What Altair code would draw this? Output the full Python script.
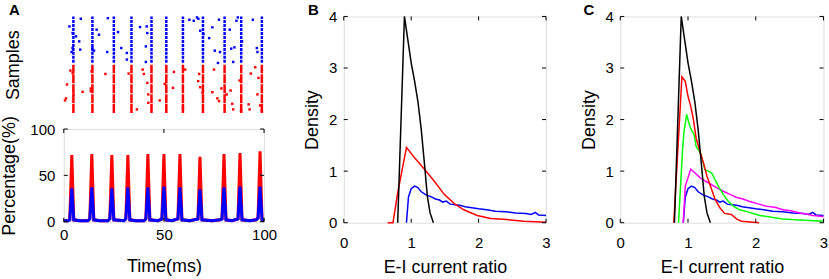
import altair as alt
import pandas as pd

FONT = "Liberation Sans"
RED = "#ff0000"
BLUE = "#0000ff"
GREEN = "#00ff00"
MAGENTA = "#ff00ff"
BLACK = "#000000"

# ---------------- Panel A: raster ----------------
col_times = [4.8, 14.3, 25.0, 33.8, 43.8, 51.2, 59.5, 69.5, 80.3, 88.6, 98.9]
blue_col_lo, blue_col_hi = 52, 100
red_col_lo, red_col_hi = 0, 50

blue_dot_t = [8.5, 2.8, 4.4, 6.1, 7.7, 4.4, 8.2, 3.9, 16.4, 17.6, 14.3, 15.1, 22.0, 27.1, 21.7,
              28.7, 31.5, 31.5, 38.1, 41.4, 41.7, 41.0, 41.0, 62.7, 64.9, 66.5, 67.2, 68.1, 69.8,
              72.6, 74.2, 77.5, 82.9, 86.9, 86.2, 75.4, 78.0, 83.6, 85.2, 89.0, 77.0, 84.6, 94.4,
              96.4, 96.7]
blue_dot_n = [97.6, 89.7, 82.8, 79.4, 74.2, 67.3, 65.7, 63.2, 86.3, 81.1, 67.3, 64.6, 98.2, 83.8,
              63.2, 67.3, 62.2, 55.4, 89.0, 89.7, 82.8, 69.0, 52.9, 96.6, 95.5, 99.0, 97.6, 85.2,
              81.8, 77.6, 88.7, 96.6, 86.3, 99.0, 95.5, 64.6, 63.2, 66.7, 68.0, 74.2, 51.9, 52.9,
              96.6, 67.3, 63.2]
red_dot_t = [3.3, 4.4, 1.6, 4.9, 9.4, 1.1, 0.6, 13.9, 13.5, 13.5, 20.8, 32.4, 39.4, 40.0, 41.7,
             42.2, 42.2, 36.5, 47.9, 50.4, 55.0, 54.5, 60.6, 59.5, 67.6, 67.1, 68.1, 69.3, 74.2,
             75.0, 76.7, 77.5, 78.7, 81.3, 83.3, 84.1, 84.6, 92.3, 92.8, 93.4, 95.6, 97.2, 96.7,
             98.0, 98.9, 88.5, 87.8]
red_dot_n = [44.0, 41.6, 29.6, 19.3, 22.0, 15.2, 13.1, 43.3, 22.7, 25.4, 40.5, 40.9, 45.0, 40.5,
             31.2, 19.3, 10.6, 3.8, 13.1, 30.2, 42.6, 26.1, 45.0, 5.5, 40.5, 33.0, 26.8, 20.9,
             21.6, 45.0, 15.2, 12.4, 25.5, 19.3, 23.4, 9.6, 3.8, 9.0, 3.8, 40.9, 47.4, 36.4,
             19.3, 7.9, 2.8, 2.8, 33.7]

# ---------------- Panel A: population percentage ----------------
ts_time = [0, 2, 3, 4, 5, 8, 12, 13, 14, 15, 18, 22, 23, 24, 25, 30, 31, 32, 33, 36, 40, 41, 42,
           43, 47, 49, 50, 51, 54, 57, 58, 59, 63, 67, 68, 69, 74, 78, 79, 80, 81, 84, 87, 88,
           89, 93, 96, 97, 98, 99, 100]
ts_red = [1, 1, 2, 72, 2, 1, 1, 3, 73, 2, 1, 1, 3, 72, 2, 1, 3, 72, 2, 1, 1, 3, 73, 2, 1, 3, 73,
          2, 1, 3, 73, 2, 1, 3, 70, 2, 1, 2, 3, 73, 2, 1, 3, 74, 2, 1, 2, 4, 76, 2, 1]
ts_blue = [1, 1, 2, 36, 2, 1, 1, 3, 37, 2, 1, 1, 3, 36, 2, 1, 3, 37, 2, 1, 1, 3, 37, 2, 1, 3, 38,
           2, 1, 3, 37, 2, 1, 3, 35, 2, 1, 2, 3, 37, 2, 1, 3, 38, 2, 1, 2, 4, 38, 2, 1]

# ---------------- Panels B / C: densities ----------------
black_x = [0.80, 0.90, 0.95, 1.00, 1.05, 1.10, 1.15, 1.20, 1.24, 1.28, 1.33]
black_y = [0.00, 4.00, 3.55, 3.10, 2.75, 2.35, 1.80, 1.10, 0.51, 0.19, 0.00]

blue_x = [0.93, 0.96, 1.00, 1.05, 1.10, 1.15, 1.22, 1.30, 1.36, 1.42, 1.47, 1.52, 1.58, 1.65,
          1.72, 1.80, 1.90, 2.00, 2.12, 2.25, 2.40, 2.55, 2.70, 2.78, 2.84, 2.89, 3.00]
blue_y = [0.00, 0.50, 0.66, 0.71, 0.68, 0.60, 0.54, 0.50, 0.46, 0.44, 0.40, 0.42, 0.36, 0.35,
          0.34, 0.31, 0.29, 0.27, 0.25, 0.22, 0.21, 0.19, 0.18, 0.16, 0.20, 0.15, 0.14]

redB_x = [0.65, 0.73, 0.80, 0.93, 1.05, 1.20, 1.34, 1.49, 1.64, 1.78, 1.98, 2.18, 2.42, 2.67, 3.00]
redB_y = [0.00, 0.00, 0.58, 1.46, 1.26, 1.03, 0.81, 0.55, 0.37, 0.25, 0.14, 0.08, 0.06, 0.03, 0.01]

redC_x = [0.79, 0.91, 0.96, 1.00, 1.04, 1.08, 1.12, 1.17, 1.23, 1.28, 1.35, 1.40, 1.47, 1.54,
          1.64, 1.72, 1.79, 2.05]
redC_y = [0.00, 2.83, 2.74, 2.45, 2.26, 2.00, 1.64, 1.41, 1.15, 0.90, 0.64, 0.45, 0.29, 0.18,
          0.16, 0.07, 0.03, 0.00]

green_x = [0.86, 0.92, 0.94, 0.98, 1.02, 1.05, 1.09, 1.12, 1.17, 1.20, 1.25, 1.30, 1.35, 1.40,
           1.45, 1.52, 1.59, 1.67, 1.76, 1.86, 1.96, 2.06, 2.16, 2.40, 2.65, 3.00]
green_y = [0.00, 1.42, 1.75, 2.10, 1.90, 1.80, 1.71, 1.48, 1.38, 1.28, 1.03, 1.00, 0.96, 0.83,
           0.70, 0.55, 0.42, 0.32, 0.25, 0.22, 0.18, 0.14, 0.12, 0.07, 0.05, 0.03]

mag_x = [0.93, 0.96, 1.04, 1.10, 1.18, 1.25, 1.32, 1.42, 1.52, 1.62, 1.72, 1.81, 1.91, 2.02,
         2.16, 2.28, 2.40, 2.52, 2.65, 2.75, 2.84, 3.00]
mag_y = [0.00, 0.71, 1.04, 0.97, 0.87, 0.81, 0.76, 0.68, 0.61, 0.55, 0.49, 0.46, 0.41, 0.37,
         0.32, 0.30, 0.25, 0.23, 0.19, 0.17, 0.14, 0.12]

ts_ticks = [0, 50, 100]
dens_xticks = [0, 1, 2, 3]
dens_yticks = [0, 1, 2, 3, 4]

# ---------------- sizes ----------------
W_A, H_R, H_T = 201, 97, 93
W_B, W_C, H_D = 203, 204, 207

LBL = dict(labelFont=FONT, labelFontSize=15, labelColor=BLACK, titleFont=FONT, titleFontSize=18,
           titleFontWeight="normal", titleColor=BLACK, grid=False, domain=False, ticks=False,
           tickSize=0, labelFlush=False, titleBaseline="alphabetic")


def letter(ch, dx):
    return alt.Chart(pd.DataFrame({"label": [ch]})).mark_text(
        align="left", baseline="alphabetic", fontSize=15, fontWeight="bold", font=FONT,
        color=BLACK).encode(text="label:N", x=alt.value(dx), y=alt.value(-1))


def inward_ticks(xvals, yvals, xs, ys, xax, yax, w, h, L=4):
    dx = pd.DataFrame({"v": xvals})
    dy = pd.DataFrame({"v": yvals})
    r = dict(color=BLACK, strokeWidth=1)
    bottom = alt.Chart(dx).mark_rule(**r).encode(
        x=alt.X("v:Q", scale=xs, axis=xax), y=alt.value(h), y2=alt.value(h - L))
    top = alt.Chart(dx).mark_rule(**r).encode(
        x=alt.X("v:Q", scale=xs, axis=xax), y=alt.value(0), y2=alt.value(L))
    left = alt.Chart(dy).mark_rule(**r).encode(
        y=alt.Y("v:Q", scale=ys, axis=yax), x=alt.value(0), x2=alt.value(L))
    right = alt.Chart(dy).mark_rule(**r).encode(
        y=alt.Y("v:Q", scale=ys, axis=yax), x=alt.value(w), x2=alt.value(w - L))
    return [bottom, top, left, right]


# ---- raster ----
xA = alt.Scale(domain=[0, 100], nice=False, zero=False)
yR = alt.Scale(domain=[0, 100], nice=False, zero=False)
yR_axis = alt.Axis(title="Samples", labels=False, titleX=-45, **LBL)

cols = pd.DataFrame({"t": col_times, "blo": blue_col_lo, "bhi": blue_col_hi,
                     "rlo": red_col_lo, "rhi": red_col_hi})
blue_cols = alt.Chart(cols).mark_rule(color=BLUE, strokeWidth=2.5, strokeDash=[3, 1]).encode(
    x=alt.X("t:Q", scale=xA, axis=None), y=alt.Y("blo:Q", scale=yR, axis=yR_axis), y2="bhi:Q")
red_cols = alt.Chart(cols).mark_rule(color=RED, strokeWidth=2.5, strokeDash=[9, 1]).encode(
    x=alt.X("t:Q", scale=xA, axis=None), y=alt.Y("rlo:Q", scale=yR, axis=yR_axis), y2="rhi:Q")
bdots = alt.Chart(pd.DataFrame({"t": blue_dot_t, "n": blue_dot_n})).mark_square(
    color=BLUE, size=6, opacity=1).encode(
    x=alt.X("t:Q", scale=xA, axis=None), y=alt.Y("n:Q", scale=yR, axis=yR_axis))
rdots = alt.Chart(pd.DataFrame({"t": red_dot_t, "n": red_dot_n})).mark_square(
    color=RED, size=6, opacity=1).encode(
    x=alt.X("t:Q", scale=xA, axis=None), y=alt.Y("n:Q", scale=yR, axis=yR_axis))
raster = alt.layer(blue_cols, red_cols, bdots, rdots, letter("A", -55)).properties(
    width=W_A, height=H_R, view=alt.ViewBackground(stroke="transparent"))

# ---- time series ----
yT = alt.Scale(domain=[0, 100], nice=False, zero=False)
xT_axis = alt.Axis(values=ts_ticks, title="Time(ms)", labelPadding=6, titleY=50, **LBL)
yT_axis = alt.Axis(values=ts_ticks, title="Percentage(%)", labelPadding=9, titleX=-49, **LBL)
ts_r = alt.Chart(pd.DataFrame({"t": ts_time, "v": ts_red})).mark_line(
    color=RED, strokeWidth=3).encode(
    x=alt.X("t:Q", scale=xA, axis=xT_axis), y=alt.Y("v:Q", scale=yT, axis=yT_axis))
ts_b = alt.Chart(pd.DataFrame({"t": ts_time, "v": ts_blue})).mark_line(
    color=BLUE, strokeWidth=3).encode(
    x=alt.X("t:Q", scale=xA, axis=xT_axis), y=alt.Y("v:Q", scale=yT, axis=yT_axis))
ts = alt.layer(ts_r, ts_b, *inward_ticks(ts_ticks, ts_ticks, xA, yT, xT_axis, yT_axis, W_A, H_T)
               ).properties(width=W_A, height=H_T)

panelA = alt.vconcat(raster, ts, spacing=16, bounds="flush")

# ---- densities ----
xD = alt.Scale(domain=[0, 3], nice=False, zero=False)
yD = alt.Scale(domain=[0, 4], nice=False, zero=False)


def dens_panel(series, w, title_x, ch, ch_dx):
    xax = alt.Axis(values=dens_xticks, title="E-I current ratio", labelPadding=12.5,
                   titleY=49.5, **LBL)
    yax = alt.Axis(values=dens_yticks, title="Density", labelPadding=7, titleX=title_x, **LBL)
    layers = []
    for xs_, ys_, col in series:
        layers.append(alt.Chart(pd.DataFrame({"x": xs_, "y": ys_})).mark_line(
            color=col, strokeWidth=1.5).encode(
            x=alt.X("x:Q", scale=xD, axis=xax), y=alt.Y("y:Q", scale=yD, axis=yax)))
    layers += inward_ticks(dens_xticks, dens_yticks, xD, yD, xax, yax, w, H_D)
    layers.append(letter(ch, ch_dx))
    return alt.layer(*layers).properties(width=w, height=H_D)


panelB = dens_panel([(blue_x, blue_y, BLUE), (redB_x, redB_y, RED), (black_x, black_y, BLACK)],
                    W_B, -26.8, "B", -36)
panelC = dens_panel([(blue_x, blue_y, BLUE), (mag_x, mag_y, MAGENTA), (green_x, green_y, GREEN),
                     (redC_x, redC_y, RED), (black_x, black_y, BLACK)],
                    W_C, -25.4, "C", -37)

BC = alt.hconcat(panelB, panelC, spacing=29.5)
chart = alt.hconcat(panelA, BC, spacing=24).properties(
    padding={"left": 0, "top": 2, "right": 0, "bottom": 0}
).configure_view(stroke=BLACK, strokeWidth=1).configure(background="white")

chart.save("out.html", embed_options={"renderer": "svg", "actions": False})
